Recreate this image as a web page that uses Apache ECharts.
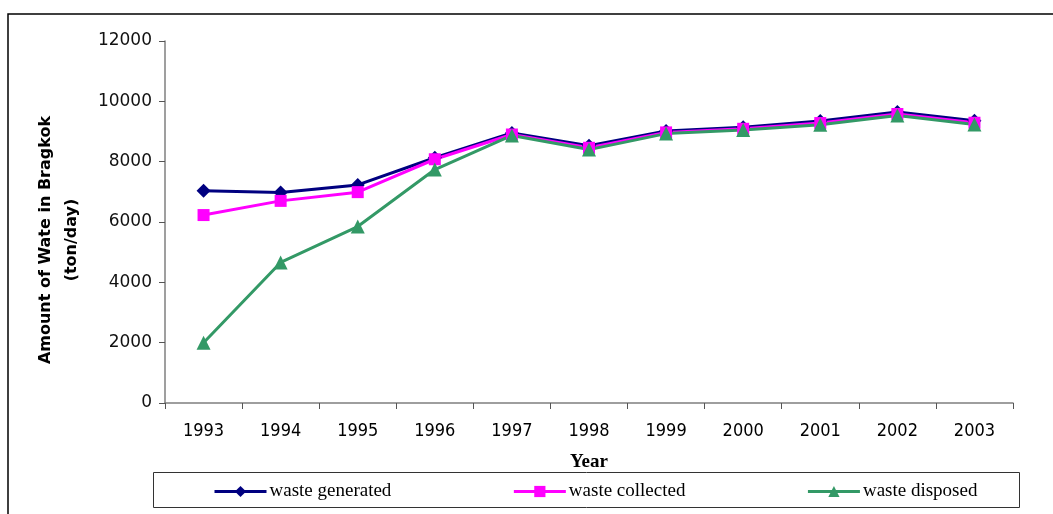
<!DOCTYPE html>
<html>
<head>
<meta charset="utf-8">
<script src="https://cdn.jsdelivr.net/npm/echarts@6/dist/echarts.min.js"></script>
<style>
  html, body { margin: 0; padding: 0; background: #fff; }
  #chart { width: 1053px; height: 514px; }
</style>
</head>
<body>
<div id="chart"></div>
<script>
// Daily municipal waste in Bangkok, 1993-2003 (ton/day)
const years = ['1993', '1994', '1995', '1996', '1997', '1998', '1999', '2000', '2001', '2002', '2003'];
const wasteGenerated = [7040, 6980, 7230, 8130, 8950, 8530, 9020, 9140, 9350, 9650, 9360];
const wasteCollected = [6230, 6700, 6990, 8080, 8900, 8460, 8970, 9090, 9280, 9580, 9290];
const wasteDisposed  = [2000, 4660, 5850, 7740, 8870, 8400, 8930, 9050, 9220, 9530, 9230];
const yTicks = { min: 0, max: 12000, step: 2000 };

const chart = echarts.init(document.getElementById('chart'), null, { renderer: 'canvas' });

const lineSeries = (name, data, color, symbol, size) => ({
  name, type: 'line', data,
  symbol, symbolSize: size,
  lineStyle: { color, width: 3 },
  itemStyle: { color },
  emphasis: { disabled: true },
  animation: false
});

chart.setOption({
  backgroundColor: '#ffffff',
  animation: false,
  grid: { left: 165, right: 40, top: 41, bottom: 111 },
  xAxis: {
    type: 'category',
    data: years,
    boundaryGap: true,
    name: 'Year',
    nameLocation: 'middle',
    nameGap: 50,
    nameTextStyle: { fontFamily: 'Liberation Serif', fontWeight: 'bold', fontSize: 19, color: '#000' },
    axisLine: { lineStyle: { color: '#7f7f7f', width: 1.5 } },
    axisTick: { show: true, length: 6, alignWithLabel: false, lineStyle: { color: '#555' } },
    axisLabel: { fontFamily: 'DejaVu Sans Condensed', fontSize: 18, color: '#000', margin: 19 },
    splitLine: { show: false }
  },
  yAxis: {
    type: 'value',
    min: yTicks.min, max: yTicks.max, interval: yTicks.step,
    axisLine: { show: true, lineStyle: { color: '#7f7f7f', width: 1.5 } },
    axisTick: { show: true, length: 6, lineStyle: { color: '#555' } },
    axisLabel: { fontFamily: 'DejaVu Sans', fontSize: 17, color: '#111', margin: 13,
                 formatter: v => String(v) },
    splitLine: { show: false }
  },
  legend: {
    left: 208, top: 477,
    itemWidth: 52, itemHeight: 14, itemGap: 121,
    lineStyle: { width: 3 },
    textStyle: { fontFamily: 'Liberation Serif', fontSize: 19, color: '#000', padding: [0, 0, 0, -2] },
    data: ['waste generated', 'waste collected', 'waste disposed']
  },
  graphic: [
    { type: 'rect', silent: true, shape: { x: 8, y: 14, width: 1200, height: 700 },
      style: { fill: 'none', stroke: '#000', lineWidth: 1.5 } },
    { type: 'rect', silent: true, shape: { x: 153.5, y: 472.5, width: 866, height: 35 },
      style: { fill: 'none', stroke: '#333', lineWidth: 1 } },
    { type: 'text', silent: true, x: 59, y: 240, rotation: Math.PI / 2,
      style: {
        text: 'Amount of Wate in Bragkok\n(ton/day)',
        fontFamily: 'DejaVu Sans', fontWeight: 'bold', fontSize: 16, lineHeight: 26,
        fill: '#000', align: 'center', verticalAlign: 'middle'
      } }
  ],
  series: [
    lineSeries('waste generated', wasteGenerated, '#000080', 'diamond', 14),
    lineSeries('waste collected', wasteCollected, '#ff00ff', 'rect', 12),
    lineSeries('waste disposed', wasteDisposed, '#339966', 'triangle', 14)
  ]
});
</script>
</body>
</html>
